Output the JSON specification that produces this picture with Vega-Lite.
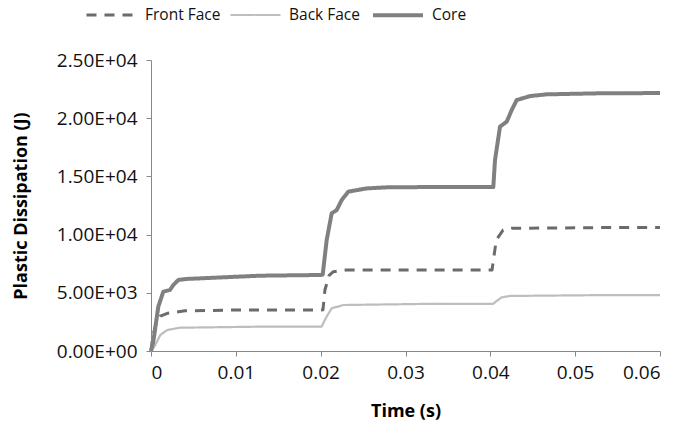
{
  "$schema": "https://vega.github.io/schema/vega-lite/v6.json",
  "width": 509,
  "height": 291,
  "autosize": {"type": "none"},
  "padding": {"left": 151, "top": 60, "right": 25, "bottom": 81},
  "background": "white",
  "config": {
    "view": {"stroke": null},
    "font": "Open Sans"
  },
  "data": {
    "values": [
      {"t": 0, "v": 0, "s": "Front Face"},
      {"t": 0.0002, "v": 1200, "s": "Front Face"},
      {"t": 0.0006, "v": 2400, "s": "Front Face"},
      {"t": 0.0011, "v": 3000, "s": "Front Face"},
      {"t": 0.0020, "v": 3250, "s": "Front Face"},
      {"t": 0.0040, "v": 3450, "s": "Front Face"},
      {"t": 0.0100, "v": 3520, "s": "Front Face"},
      {"t": 0.0200, "v": 3530, "s": "Front Face"},
      {"t": 0.02027, "v": 3540, "s": "Front Face"},
      {"t": 0.0205, "v": 5240, "s": "Front Face"},
      {"t": 0.0210, "v": 6500, "s": "Front Face"},
      {"t": 0.0215, "v": 6810, "s": "Front Face"},
      {"t": 0.0230, "v": 6950, "s": "Front Face"},
      {"t": 0.0320, "v": 6960, "s": "Front Face"},
      {"t": 0.0402, "v": 6960, "s": "Front Face"},
      {"t": 0.0407, "v": 9540, "s": "Front Face"},
      {"t": 0.0415, "v": 10390, "s": "Front Face"},
      {"t": 0.0425, "v": 10540, "s": "Front Face"},
      {"t": 0.0530, "v": 10600, "s": "Front Face"},
      {"t": 0.0600, "v": 10600, "s": "Front Face"},
      {"t": 0, "v": 0, "s": "Back Face"},
      {"t": 0.0004, "v": 370, "s": "Back Face"},
      {"t": 0.0011, "v": 1375, "s": "Back Face"},
      {"t": 0.0019, "v": 1800, "s": "Back Face"},
      {"t": 0.0034, "v": 2000, "s": "Back Face"},
      {"t": 0.0128, "v": 2090, "s": "Back Face"},
      {"t": 0.0201, "v": 2090, "s": "Back Face"},
      {"t": 0.0207, "v": 2950, "s": "Back Face"},
      {"t": 0.0213, "v": 3670, "s": "Back Face"},
      {"t": 0.0227, "v": 3950, "s": "Back Face"},
      {"t": 0.0317, "v": 4040, "s": "Back Face"},
      {"t": 0.0403, "v": 4040, "s": "Back Face"},
      {"t": 0.0413, "v": 4600, "s": "Back Face"},
      {"t": 0.0423, "v": 4730, "s": "Back Face"},
      {"t": 0.0530, "v": 4800, "s": "Back Face"},
      {"t": 0.0600, "v": 4800, "s": "Back Face"},
      {"t": 0, "v": 0, "s": "Core"},
      {"t": 0.00027, "v": 800, "s": "Core"},
      {"t": 0.00086, "v": 3800, "s": "Core"},
      {"t": 0.00145, "v": 5100, "s": "Core"},
      {"t": 0.00224, "v": 5240, "s": "Core"},
      {"t": 0.00263, "v": 5670, "s": "Core"},
      {"t": 0.00322, "v": 6100, "s": "Core"},
      {"t": 0.00421, "v": 6190, "s": "Core"},
      {"t": 0.01285, "v": 6470, "s": "Core"},
      {"t": 0.0200, "v": 6530, "s": "Core"},
      {"t": 0.02024, "v": 6560, "s": "Core"},
      {"t": 0.02071, "v": 9540, "s": "Core"},
      {"t": 0.0213, "v": 11830, "s": "Core"},
      {"t": 0.02189, "v": 12110, "s": "Core"},
      {"t": 0.02248, "v": 12970, "s": "Core"},
      {"t": 0.02326, "v": 13690, "s": "Core"},
      {"t": 0.02543, "v": 13970, "s": "Core"},
      {"t": 0.02778, "v": 14060, "s": "Core"},
      {"t": 0.0317, "v": 14080, "s": "Core"},
      {"t": 0.04035, "v": 14080, "s": "Core"},
      {"t": 0.04055, "v": 16400, "s": "Core"},
      {"t": 0.04114, "v": 19270, "s": "Core"},
      {"t": 0.04193, "v": 19700, "s": "Core"},
      {"t": 0.04252, "v": 20700, "s": "Core"},
      {"t": 0.04311, "v": 21560, "s": "Core"},
      {"t": 0.04468, "v": 21900, "s": "Core"},
      {"t": 0.04664, "v": 22050, "s": "Core"},
      {"t": 0.05293, "v": 22140, "s": "Core"},
      {"t": 0.0600, "v": 22160, "s": "Core"}
    ]
  },
  "mark": {"type": "line", "strokeCap": "butt", "strokeJoin": "round"},
  "encoding": {
    "x": {
      "field": "t", "type": "quantitative",
      "scale": {"domain": [0, 0.06], "nice": false, "zero": false},
      "axis": {
        "title": "Time (s)", "titleFontSize": 18, "titleFontWeight": "bold", "titleColor": "#000", "titlePadding": 20,
        "values": [0, 0.01, 0.02, 0.03, 0.04, 0.05, 0.06],
        "labelExpr": "datum.value == 0 ? '0' : format(datum.value, '.2f')",
        "labelFontSize": 19, "labelColor": "#111", "labelPadding": 7,
        "grid": false, "domainColor": "#888", "tickColor": "#888", "tickSize": 5
      }
    },
    "y": {
      "field": "v", "type": "quantitative",
      "scale": {"domain": [0, 25000], "nice": false},
      "axis": {
        "title": "Plastic Dissipation (J)", "titleFontSize": 18, "titleFontWeight": "bold", "titleColor": "#000", "titlePadding": 26,
        "values": [0, 5000, 10000, 15000, 20000, 25000],
        "labelExpr": "datum.value == 0 ? '0.00E+00' : format(datum.value / pow(10, floor(log(datum.value) / LN10 + 1e-9)), '.2f') + 'E+' + (floor(log(datum.value) / LN10 + 1e-9) < 10 ? '0' : '') + floor(log(datum.value) / LN10 + 1e-9)",
        "labelFontSize": 19, "labelColor": "#111", "labelPadding": 9,
        "grid": false, "domainColor": "#888", "tickColor": "#888", "tickSize": 5
      }
    },
    "color": {
      "field": "s", "type": "nominal",
      "scale": {"domain": ["Front Face", "Back Face", "Core"], "range": ["#6b6b6b", "#bdbdbd", "#808080"]},
      "legend": {
        "orient": "none", "legendX": -66, "legendY": -72, "direction": "horizontal",
        "title": null, "symbolType": "stroke", "symbolSize": 2500,
        "labelFontSize": 15.5, "labelColor": "#111", "labelOffset": 7, "columnPadding": 5
      }
    },
    "strokeDash": {
      "field": "s", "type": "nominal",
      "scale": {"domain": ["Front Face", "Back Face", "Core"], "range": [[10, 8], [1, 0], [1, 0]]}
    },
    "strokeWidth": {
      "field": "s", "type": "ordinal",
      "scale": {"type": "ordinal", "domain": ["Front Face", "Back Face", "Core"], "range": [3, 2.2, 4]}
    }
  }
}
